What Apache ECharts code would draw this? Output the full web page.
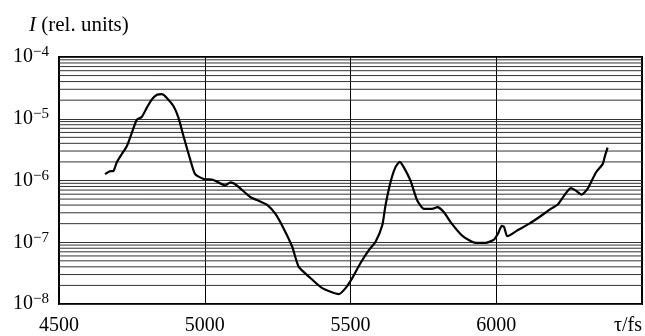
<!DOCTYPE html>
<html>
<head>
<meta charset="utf-8">
<script src="https://cdn.jsdelivr.net/npm/echarts@6/dist/echarts.min.js"></script>
<style>
  html, body { margin: 0; padding: 0; background: #fff; }
  #chart { width: 645px; height: 336px; }
</style>
</head>
<body>
<div id="chart"></div>
<script>
// delay in fs
var tau = [4658, 4675, 4687, 4698, 4715, 4733, 4750, 4767, 4784, 4801, 4818, 4836, 4853, 4870, 4893, 4910, 4927, 4950, 4967, 4996,
  5030, 5070, 5088, 5110, 5156, 5190, 5214, 5242, 5271, 5300, 5322, 5357, 5403, 5460, 5483, 5506, 5534, 5563, 5586, 5609,
  5620, 5637, 5654, 5669, 5683, 5706, 5729, 5752, 5780, 5798, 5820, 5844, 5884, 5929, 5964, 5992, 6006, 6019, 6027, 6038,
  6073, 6112, 6153, 6187, 6210, 6233, 6256, 6273, 6293, 6313, 6342, 6365, 6373, 6382];
// intensity, rel. units
var intensity = [1.27e-6, 1.41e-6, 1.43e-6, 1.96e-6, 2.66e-6, 3.63e-6, 5.94e-6, 9.7e-6, 1.07e-5, 1.5e-5, 2.04e-5, 2.45e-5, 2.5e-5, 2.17e-5, 1.59e-5, 1.03e-5, 5.25e-6, 2.2e-6, 1.27e-6, 1.06e-6,
  1.02e-6, 8.3e-7, 9.3e-7, 8.3e-7, 5.4e-7, 4.57e-7, 4.04e-7, 2.9e-7, 1.66e-7, 8.45e-8, 4.03e-8, 2.78e-8, 1.81e-8, 1.45e-8, 1.81e-8, 2.63e-8, 4.57e-8, 7.45e-8, 1.02e-7, 1.88e-7,
  3.94e-7, 9.3e-7, 1.63e-6, 2.0e-6, 1.63e-6, 9.9e-7, 4.74e-7, 3.48e-7, 3.48e-7, 3.7e-7, 3.1e-7, 2.1e-7, 1.27e-7, 9.8e-8, 9.8e-8, 1.1e-7, 1.38e-7, 1.84e-7, 1.77e-7, 1.25e-7,
  1.56e-7, 1.98e-7, 2.66e-7, 3.48e-7, 4.04e-7, 5.7e-7, 7.5e-7, 6.86e-7, 5.9e-7, 7.3e-7, 1.35e-6, 1.84e-6, 2.5e-6, 3.4e-6];

var xTicks = [4500, 5000, 5500, 6000, 6500];
var decades = [-8, -7, -6, -5, -4];
var minorSteps = [2, 3, 4, 5, 6, 7, 8, 9];

var serif = '"Liberation Serif", "DejaVu Serif", serif';
var xMin = xTicks[0], xMax = xTicks[xTicks.length - 1];

// minor grid lines of the log axis (2..9 in each decade), drawn as flat lines
var gridSeries = [];
decades.slice(0, -1).forEach(function (d) {
  minorSteps.forEach(function (k) {
    var v = k * Math.pow(10, d);
    gridSeries.push({
      type: 'line',
      data: [[xMin, v], [xMax, v]],
      showSymbol: false,
      silent: true,
      lineStyle: { color: '#333', width: 1 },
      z: 1
    });
  });
});

var chart = echarts.init(document.getElementById('chart'));
chart.setOption({
  animation: false,
  title: {
    text: '{i|I} (rel. units)',
    left: 24,
    top: 10,
    textStyle: {
      fontFamily: serif, fontSize: 21, fontWeight: 'normal', color: '#000',
      rich: { i: { fontFamily: serif, fontSize: 21, fontStyle: 'italic', color: '#000' } }
    }
  },
  grid: {
    left: 59, top: 57, right: 3, bottom: 30,
    show: true, borderColor: '#000', borderWidth: 2
  },
  xAxis: {
    type: 'value',
    min: xMin, max: xMax, interval: 500,
    axisLine: { show: false },
    axisTick: { show: false },
    splitLine: { show: true, lineStyle: { color: '#000', width: 1 } },
    axisLabel: {
      margin: 12,
      fontFamily: serif, fontSize: 20, color: '#000',
      showMaxLabel: true, alignMaxLabel: 'right',
      formatter: function (v) { return v === 6500 ? 'τ/fs' : String(v); }
    }
  },
  yAxis: {
    type: 'log', logBase: 10,
    min: Math.pow(10, decades[0]), max: Math.pow(10, decades[decades.length - 1]),
    axisLine: { show: false },
    axisTick: { show: false },
    splitLine: { show: true, lineStyle: { color: '#333', width: 1 } },
    axisLabel: {
      margin: 10,
      color: '#000',
      formatter: function (v) {
        var e = Math.round(Math.log10(v));
        return '{b|10}{s|−' + (-e) + '}';
      },
      rich: {
        b: { fontFamily: serif, fontSize: 20, color: '#000', lineHeight: 24 },
        s: { fontFamily: serif, fontSize: 15, color: '#000', verticalAlign: 'top', lineHeight: 15 }
      }
    }
  },
  series: gridSeries.concat([{
    type: 'line',
    data: tau.map(function (t, i) { return [t, intensity[i]]; }),
    showSymbol: false,
    smooth: 0.2,
    lineStyle: { color: '#000', width: 2.2 },
    z: 5
  }])
});
</script>
</body>
</html>
